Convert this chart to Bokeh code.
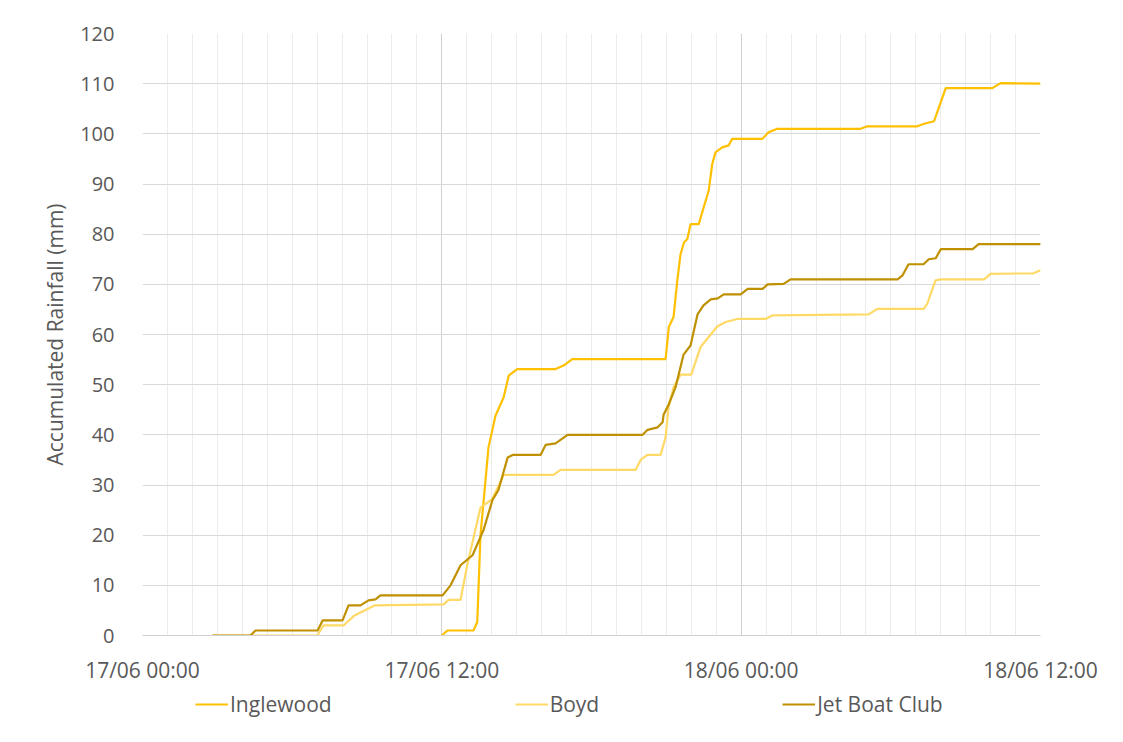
from bokeh.plotting import figure
from bokeh.models import Range1d, FixedTicker, Legend, LegendItem
from bokeh.layouts import column
from bokeh.embed import file_html
from bokeh.resources import INLINE

# hours since 17/06 00:00
inglewood_h = [12.0, 12.07, 12.22, 13.27, 13.42, 13.55, 13.87, 14.15, 14.48, 14.68, 15.02, 16.56, 16.88, 17.23,
               20.97, 21.1, 21.29, 21.44, 21.57, 21.71, 21.84, 21.97, 22.3, 22.5, 22.7, 22.84, 22.97, 23.24, 23.5,
               23.64, 24.85, 25.1, 25.45, 28.79, 29.06, 31.06, 31.33, 31.73, 32.2, 34.07, 34.4, 36.0]
inglewood_v = [0, 0.3, 1, 1, 2.7, 20, 37.5, 43.8, 47.5, 51.8, 53.1, 53.1, 53.8, 55.1,
               55.1, 61.5, 63.5, 70.8, 76, 78.4, 79, 82, 82, 85.4, 88.7, 94, 96.3, 97.3, 97.7,
               99, 99, 100.3, 101, 101, 101.5, 101.5, 102, 102.5, 109.1, 109.1, 110.1, 110]

boyd_h = [2.8, 7.0, 7.26, 8.06, 8.5, 8.9, 9.3, 12.07, 12.27, 12.75, 13.03, 13.55, 14.02, 14.48, 16.48, 16.76,
          19.77, 19.97, 20.24, 20.77, 20.97, 21.09, 21.29, 21.57, 22.0, 22.37, 23.04, 23.38, 23.85, 24.98,
          25.25, 29.11, 29.46, 31.32, 31.46, 31.79, 31.99, 33.74, 34.0, 35.72, 36.0]
boyd_v = [0, 0, 2, 2, 4, 5, 6, 6.2, 7.1, 7.1, 14.3, 25.5, 27.2, 32, 32, 33,
          33, 35, 36, 36, 39.5, 45.5, 49.5, 52, 52, 57.5, 61.6, 62.5, 63.1, 63.1,
          63.8, 64, 65.1, 65.1, 66.1, 70.8, 71, 71, 72.1, 72.2, 72.8]

jet_h = [2.81, 4.33, 4.53, 7.02, 7.22, 8.02, 8.26, 8.74, 9.06, 9.34, 9.54, 12.03, 12.35, 12.75, 13.23, 13.67,
         14.03, 14.27, 14.64, 14.84, 15.96, 16.16, 16.56, 17.04, 20.05, 20.25, 20.65, 20.85, 20.89, 21.09,
         21.37, 21.69, 21.97, 22.25, 22.49, 22.78, 23.06, 23.3, 23.98, 24.26, 24.86, 25.06, 25.7, 25.98,
         30.27, 30.47, 30.71, 31.31, 31.52, 31.8, 32.0, 33.28, 33.52, 36.01]
jet_v = [0, 0, 1, 1, 3, 3, 6, 6, 7, 7.2, 8, 8, 10, 14, 16, 21,
         27, 29, 35.5, 36, 36, 38, 38.3, 40, 40, 41, 41.5, 42.5, 44, 46,
         49.5, 56, 57.8, 64, 65.8, 67, 67.2, 68, 68, 69.1, 69.1, 70, 70.1, 71,
         71, 71.8, 74, 74, 75, 75.2, 77, 77, 78, 78]

x_ticks = [0, 12, 24, 36]
x_tick_labels = ["17/06 00:00", "17/06 12:00", "18/06 00:00", "18/06 12:00"]
y_ticks = list(range(0, 121, 10))
series_names = ["Inglewood", "Boyd", "Jet Boat Club"]
series_colors = ["#FFC000", "#FFD966", "#BF9000"]

FONT = "Open Sans"
TXT = "#595959"

p = figure(width=1110, height=688, x_range=Range1d(0, 36), y_range=Range1d(0, 120),
           output_backend="svg", toolbar_location=None,
           min_border_left=142, min_border_right=70, min_border_top=33, min_border_bottom=53)
p.outline_line_color = None
p.background_fill_color = "white"

p.xaxis.ticker = FixedTicker(ticks=x_ticks, minor_ticks=list(range(0, 37)))
p.xaxis.major_label_overrides = {t: l for t, l in zip(x_ticks, x_tick_labels)}
p.yaxis.ticker = FixedTicker(ticks=y_ticks)
p.xgrid.ticker = FixedTicker(ticks=x_ticks, minor_ticks=list(range(0, 37)))
p.ygrid.ticker = FixedTicker(ticks=y_ticks)

p.xgrid.grid_line_color = "#d0d0d0"
p.xgrid.minor_grid_line_color = "#ececec"
p.ygrid.grid_line_color = "#d9d9d9"

for ax in (p.xaxis, p.yaxis):
    ax.major_tick_line_color = None
    ax.minor_tick_line_color = None
    ax.major_label_text_font = FONT
    ax.major_label_text_color = TXT
p.xaxis.major_label_text_font_size = "21px"
p.yaxis.major_label_text_font_size = "20px"
p.xaxis.axis_line_color = "#d0d0d0"
p.yaxis.axis_line_color = None
p.xaxis.major_label_standoff = 14
p.yaxis.major_label_standoff = 22

p.yaxis.axis_label = "Accumulated Rainfall (mm)"
p.yaxis.axis_label_text_font = FONT
p.yaxis.axis_label_text_font_size = "21px"
p.yaxis.axis_label_text_font_style = "normal"
p.yaxis.axis_label_text_color = TXT
p.yaxis.axis_label_standoff = 8

for hs, vs, c in zip([inglewood_h, boyd_h, jet_h], [inglewood_v, boyd_v, jet_v], series_colors):
    p.line(hs, vs, line_color=c, line_width=2.2)

# legend strip below the chart (its frame is aligned with the chart frame)
lg = figure(width=1110, height=44, x_range=Range1d(0, 1), y_range=Range1d(0, 1),
            output_backend="svg", toolbar_location=None, x_axis_type=None, y_axis_type=None,
            min_border_left=142, min_border_right=70, min_border_top=0, min_border_bottom=0)
lg.outline_line_color = None
lg.grid.visible = False
lg_renderers = [lg.line([-5, -4], [-5, -4], line_color=c, line_width=2.2) for c in series_colors]

legend = Legend(items=[LegendItem(label=n, renderers=[r]) for n, r in zip(series_names, lg_renderers)],
                orientation="horizontal", location=(53, 14))
legend.label_text_font = FONT
legend.label_text_font_size = "21px"
legend.label_text_color = TXT
legend.glyph_width = 33
legend.label_standoff = 2
legend.spacing = 183
legend.padding = 0
legend.margin = 0
legend.border_line_color = None
legend.background_fill_alpha = 0
lg.add_layout(legend, "center")

layout = column(p, lg, spacing=0)
open("out.html", "w").write(file_html(layout, INLINE))
